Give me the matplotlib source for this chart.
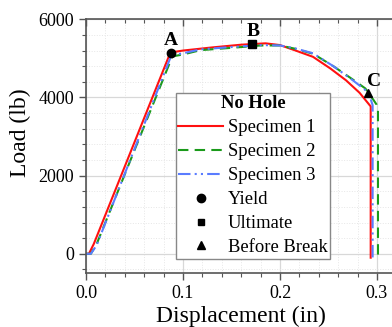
import matplotlib
matplotlib.use("Agg")
import matplotlib.pyplot as plt
from matplotlib.lines import Line2D
from matplotlib.ticker import MultipleLocator

plt.rcParams['font.family'] = ['Liberation Serif', 'DejaVu Serif']

# Specimen 1 (red, solid)
disp1 = [0.0, 0.003, 0.008, 0.087, 0.100, 0.130, 0.160,
         0.185, 0.200, 0.215, 0.234, 0.252, 0.268, 0.282, 0.2935, 0.2935]
load1 = [0, 0, 250, 5150, 5200, 5280, 5350,
         5385, 5340, 5210, 5040, 4740, 4440, 4120, 3770, -100]

# Specimen 2 (green, dashed)
disp2 = [0.0, 0.005, 0.011, 0.089, 0.100, 0.118, 0.150, 0.180,
         0.200, 0.215, 0.234, 0.255, 0.275, 0.288, 0.296, 0.2995, 0.301, 0.301]
load2 = [0, 0, 250, 5050, 5100, 5210, 5270, 5330,
         5330, 5250, 5120, 4800, 4460, 4230, 3950, 3820, 3680, -100]

# Specimen 3 (blue, dash-dot)
disp3 = [0.0, 0.005, 0.011, 0.088, 0.100, 0.118, 0.150, 0.180,
         0.200, 0.215, 0.234, 0.255, 0.275, 0.2875, 0.2928, 0.2955, 0.2955]
load3 = [0, 0, 220, 5080, 5130, 5230, 5290, 5340,
         5330, 5260, 5130, 4800, 4440, 4200, 4010, 3800, -100]

# key points
point_labels = ['A', 'B', 'C']
point_x = [0.0876, 0.171, 0.2904]
point_y = [5150, 5370, 4120]
point_markers = ['o', 's', '^']
label_x = [0.0876, 0.1727, 0.2969]
label_y = [5340, 5580, 4285]

fig = plt.figure(figsize=(3.92, 3.27), dpi=100)
ax = fig.add_axes([86 / 392, 53.7 / 327, 310.4 / 392, 254 / 327])

ax.plot(disp1, load1, color='#ff1010', lw=1.5, ls='-', label='Specimen 1')
ax.plot(disp2, load2, color='#1a9a1a', lw=1.5, ls=(0, (5, 3)), label='Specimen 2')
ax.plot(disp3, load3, color='#5a7cff', lw=1.5, ls=(0, (6, 2, 1, 2, 1, 2)), label='Specimen 3')

for lab, px, py, mk, lx, ly in zip(point_labels, point_x, point_y, point_markers, label_x, label_y):
    ax.plot(px, py, marker=mk, color='black', ms=6, ls='none', zorder=5)
    ax.text(lx, ly, lab, fontsize=14, fontweight='bold', ha='center', va='baseline')

ax.set_xlim(0, 0.32)
ax.set_ylim(-500, 6000)
ax.xaxis.set_major_locator(MultipleLocator(0.1))
ax.xaxis.set_minor_locator(MultipleLocator(0.02))
ax.yaxis.set_major_locator(MultipleLocator(2000))
ax.yaxis.set_minor_locator(MultipleLocator(400))
ax.set_xticks([0, 0.1, 0.2, 0.3])
ax.set_xticklabels(['0.0', '0.1', '0.2', '0.3'])

ax.grid(which='major', color='#d8d8d8', lw=0.9)
ax.grid(which='minor', color='#e6e6e6', lw=0.7, ls=':')
ax.set_axisbelow(True)

for s in ['left', 'bottom', 'top']:
    ax.spines[s].set_color('#555555')
    ax.spines[s].set_linewidth(1.2)
ax.spines['right'].set_visible(False)

ax.tick_params(which='major', direction='out', length=5, width=1, colors='#555555',
               labelsize=13, labelcolor='black')
ax.tick_params(which='minor', direction='out', length=3, width=0.8, colors='#555555')
ax.tick_params(axis='x', which='both', top=True)
ax.xaxis.set_tick_params(which='both', labeltop=False)
for t in ax.xaxis.get_major_ticks() + ax.xaxis.get_minor_ticks():
    t.tick2line.set_marker(3)

ax.set_xlabel('Displacement (in)', fontsize=17, labelpad=3)
ax.set_ylabel('Load (lb)', fontsize=17)
ax.yaxis.set_label_coords(-0.178, 0.554)

handles = [
    Line2D([], [], color='#ff1010', lw=1.5, ls='-'),
    Line2D([], [], color='#1a9a1a', lw=1.5, ls=(0, (5, 3))),
    Line2D([], [], color='#5a7cff', lw=1.5, ls=(0, (6, 2, 1, 2, 1, 2))),
    Line2D([], [], color='black', marker='o', ls='none', ms=6),
    Line2D([], [], color='black', marker='s', ls='none', ms=5),
    Line2D([], [], color='black', marker='^', ls='none', ms=6),
]
names = ['Specimen 1', 'Specimen 2', 'Specimen 3', 'Yield', 'Ultimate', 'Before Break']
leg = ax.legend(handles, names, title='No Hole', loc='upper left',
                bbox_to_anchor=((175.5 - 86) / 310.4, (273.3 - 92.7) / 254),
                fontsize=13.4, title_fontproperties={'weight': 'bold', 'size': 13.4},
                frameon=True, fancybox=False, edgecolor='#888888', framealpha=1,
                handlelength=2.4, handletextpad=0.25, labelspacing=0.37,
                borderpad=0.15, borderaxespad=0)
leg.get_frame().set_linewidth(1.0)

fig.savefig('out.png', dpi=100)
